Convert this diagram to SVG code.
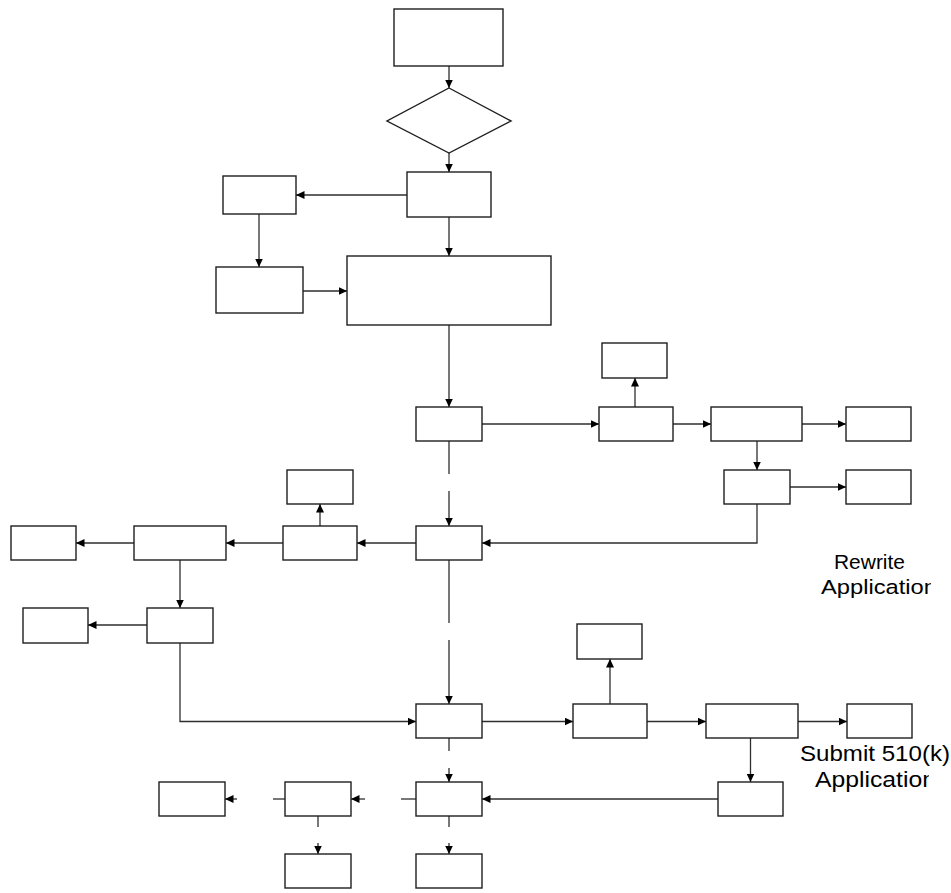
<svg xmlns="http://www.w3.org/2000/svg" width="951" height="893" viewBox="0 0 951 893">
<style>
.n{fill:#fff;stroke:#1e1e1e;stroke-width:1.4}
.c{fill:none;stroke:#2e2e2e;stroke-width:1.3}
.a{marker-end:url(#ah)}
.t{font-family:"Liberation Sans",Arial,sans-serif;fill:#000}
</style>
<defs>
<marker id="ah" markerUnits="userSpaceOnUse" markerWidth="10" markerHeight="9" refX="8.5" refY="4" orient="auto">
<path d="M0,0 L8.5,4 L0,8 Z" fill="#000"/>
</marker>
<clipPath id="clip1"><rect x="0" y="0" width="931" height="893"/></clipPath>
<clipPath id="clip2"><rect x="0" y="0" width="929" height="893"/></clipPath>
</defs>
<rect width="951" height="893" fill="#fff"/>
<g id="connectors">
<line class="c a" x1="449" y1="66" x2="449" y2="88"/>
<line class="c a" x1="449" y1="153" x2="449" y2="172"/>
<line class="c a" x1="407" y1="195" x2="296" y2="195"/>
<line class="c a" x1="259" y1="214" x2="259" y2="267"/>
<line class="c a" x1="303" y1="291" x2="347" y2="291"/>
<line class="c a" x1="449" y1="217" x2="449" y2="256"/>
<line class="c a" x1="449" y1="325" x2="449" y2="407"/>
<line class="c a" x1="482" y1="424" x2="599" y2="424"/>
<line class="c a" x1="635" y1="407" x2="635" y2="378"/>
<line class="c a" x1="673" y1="424" x2="711" y2="424"/>
<line class="c a" x1="802" y1="424" x2="846" y2="424"/>
<line class="c a" x1="757" y1="441" x2="757" y2="470"/>
<line class="c a" x1="790" y1="487" x2="846" y2="487"/>
<polyline class="c a" points="757,504 757,543 482,543"/>
<line class="c" x1="449" y1="441" x2="449" y2="474"/>
<line class="c a" x1="449" y1="491" x2="449" y2="526"/>
<line class="c a" x1="416" y1="543" x2="357" y2="543"/>
<line class="c a" x1="320" y1="526" x2="320" y2="504"/>
<line class="c a" x1="283" y1="543" x2="226" y2="543"/>
<line class="c a" x1="134" y1="543" x2="76" y2="543"/>
<line class="c a" x1="180" y1="560" x2="180" y2="608"/>
<line class="c a" x1="147" y1="625" x2="88" y2="625"/>
<polyline class="c a" points="180,643 180,721.5 416,721.5"/>
<line class="c" x1="449" y1="560" x2="449" y2="623"/>
<line class="c a" x1="449" y1="640" x2="449" y2="704"/>
<line class="c a" x1="482" y1="721.5" x2="573" y2="721.5"/>
<line class="c a" x1="610" y1="704" x2="610" y2="659"/>
<line class="c a" x1="647" y1="721.5" x2="706" y2="721.5"/>
<line class="c a" x1="798" y1="721.5" x2="847" y2="721.5"/>
<line class="c a" x1="750.5" y1="738" x2="750.5" y2="782"/>
<line class="c a" x1="718" y1="799" x2="482" y2="799"/>
<line class="c" x1="449" y1="738" x2="449" y2="751"/>
<line class="c a" x1="449" y1="768" x2="449" y2="782"/>
<line class="c" x1="416" y1="799" x2="401" y2="799"/>
<line class="c a" x1="365" y1="799" x2="351" y2="799"/>
<line class="c" x1="285" y1="799" x2="273" y2="799"/>
<line class="c a" x1="237" y1="799" x2="225" y2="799"/>
<line class="c" x1="318" y1="816" x2="318" y2="827"/>
<line class="c a" x1="318" y1="843" x2="318" y2="854"/>
<line class="c" x1="449" y1="816" x2="449" y2="827"/>
<line class="c a" x1="449" y1="843" x2="449" y2="854"/>
</g>
<g id="start"><rect class="n" x="394" y="9" width="109" height="57"/></g>
<g id="decision"><polygon class="n" points="449,88 511,121 449,153 387,121"/></g>
<g id="n2"><rect class="n" x="407" y="172" width="84" height="45"/></g>
<g id="nA"><rect class="n" x="223" y="176" width="73" height="38"/></g>
<g id="nB"><rect class="n" x="216" y="267" width="87" height="46"/></g>
<g id="nBig"><rect class="n" x="347" y="256" width="204" height="69"/></g>
<g id="nC"><rect class="n" x="416" y="407" width="66" height="34"/></g>
<g id="nD"><rect class="n" x="599" y="407" width="74" height="34"/></g>
<g id="nDtop"><rect class="n" x="602" y="343" width="65" height="35"/></g>
<g id="nE"><rect class="n" x="711" y="407" width="91" height="34"/></g>
<g id="nF"><rect class="n" x="846" y="407" width="65" height="34"/></g>
<g id="nG"><rect class="n" x="724" y="470" width="66" height="34"/></g>
<g id="nH"><rect class="n" x="846" y="470" width="65" height="34"/></g>
<g id="nI"><rect class="n" x="416" y="526" width="66" height="34"/></g>
<g id="nJ"><rect class="n" x="283" y="526" width="74" height="34"/></g>
<g id="nJtop"><rect class="n" x="287" y="470" width="66" height="34"/></g>
<g id="nK"><rect class="n" x="134" y="526" width="92" height="34"/></g>
<g id="nL"><rect class="n" x="11" y="526" width="65" height="34"/></g>
<g id="nM"><rect class="n" x="147" y="608" width="66" height="35"/></g>
<g id="nN"><rect class="n" x="23" y="608" width="65" height="35"/></g>
<g id="nO"><rect class="n" x="416" y="704" width="66" height="34"/></g>
<g id="nP"><rect class="n" x="573" y="704" width="74" height="34"/></g>
<g id="nPtop"><rect class="n" x="577" y="624" width="65" height="35"/></g>
<g id="nQ"><rect class="n" x="706" y="704" width="92" height="34"/></g>
<g id="nR"><rect class="n" x="847" y="704" width="65" height="34"/></g>
<g id="nS"><rect class="n" x="718" y="782" width="65" height="34"/></g>
<g id="nT"><rect class="n" x="416" y="782" width="66" height="34"/></g>
<g id="nU"><rect class="n" x="285" y="782" width="66" height="34"/></g>
<g id="nV"><rect class="n" x="159" y="782" width="66" height="34"/></g>
<g id="nW"><rect class="n" x="285" y="854" width="66" height="34"/></g>
<g id="nX"><rect class="n" x="416" y="854" width="66" height="34"/></g>
<g id="labels">
<text class="t" x="834" y="569" font-size="20.5" textLength="71" lengthAdjust="spacingAndGlyphs">Rewrite</text>
<text class="t" x="821" y="594" font-size="20.5" textLength="116" lengthAdjust="spacingAndGlyphs" clip-path="url(#clip1)">Application</text>
<text class="t" x="800" y="761" font-size="22" textLength="150" lengthAdjust="spacingAndGlyphs">Submit 510(k)</text>
<text class="t" x="815" y="787" font-size="22" textLength="121" lengthAdjust="spacingAndGlyphs" clip-path="url(#clip2)">Application</text>
</g>
</svg>
